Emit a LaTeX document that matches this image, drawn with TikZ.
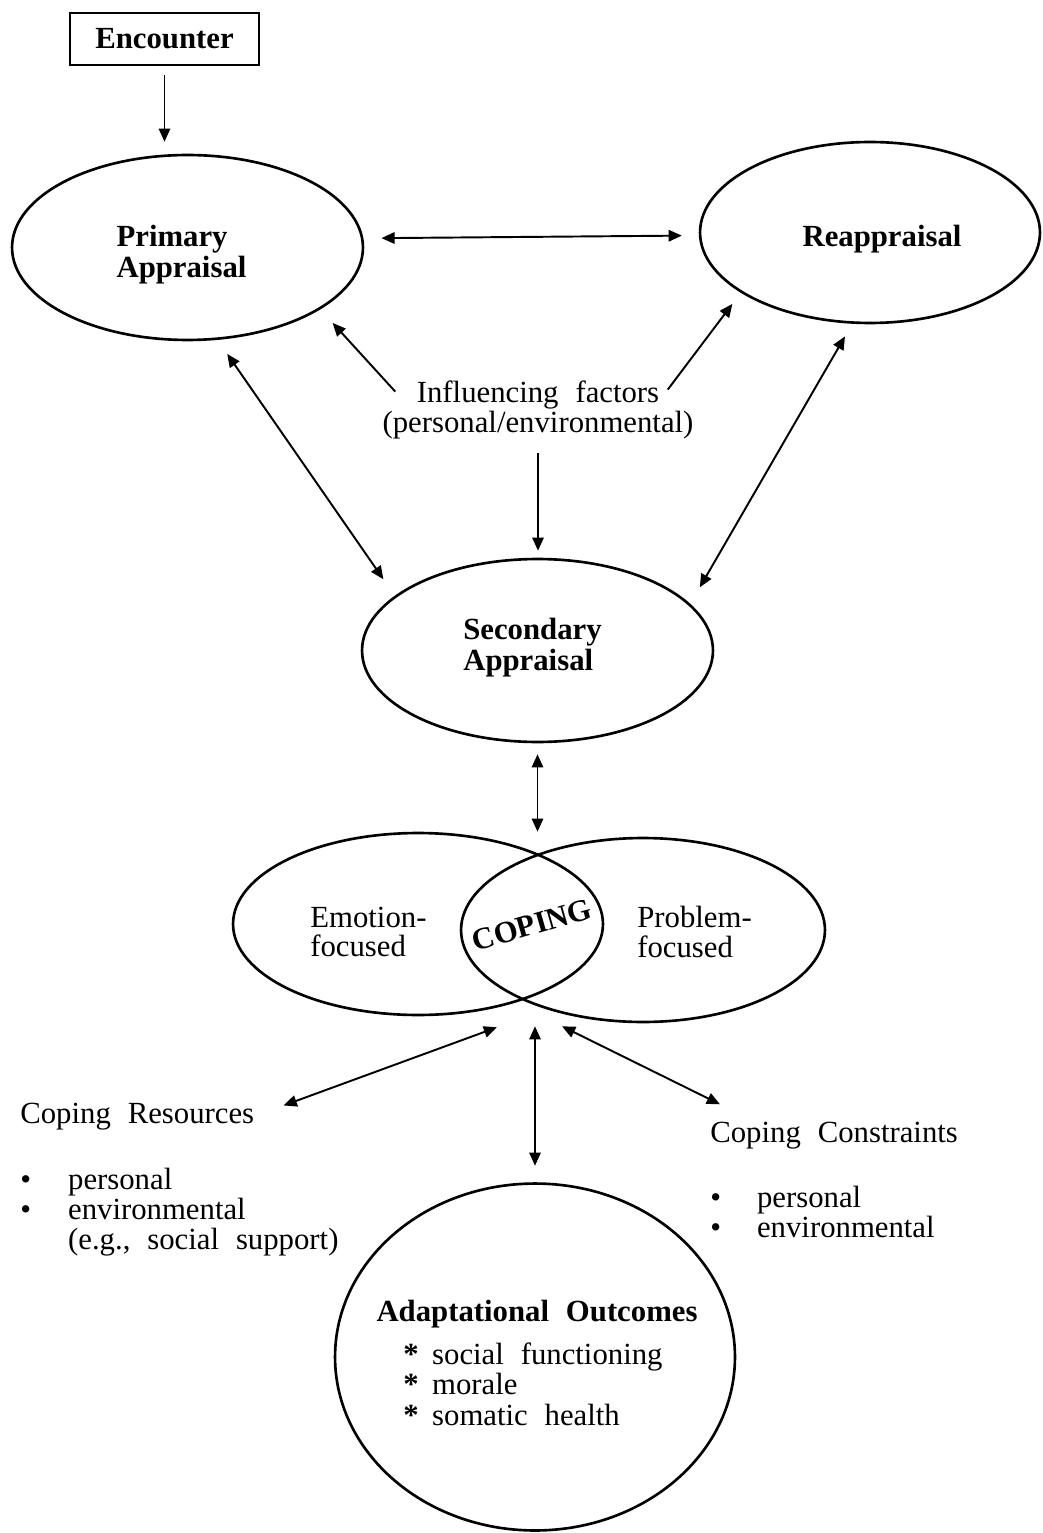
\documentclass[tikz,border=0pt]{standalone}
\usepackage{fontspec}
\setmainfont{Liberation Serif}
\usetikzlibrary{arrows.meta,shapes.geometric}
\newcommand\mywordsp{\spaceskip=0.55em\relax}
\newcommand\myfnt{\fontsize{17.5}{17}\selectfont\mywordsp}
\newcommand\mylfnt{\fontsize{17.5}{17.6}\selectfont\mywordsp}
\newcommand\mybfnt{\fontsize{17.5}{17.6}\selectfont\bfseries\mywordsp}
\begin{document}
\begin{tikzpicture}[x=0.02cm,y=-0.02cm,
  txt/.style={font=\myfnt, inner sep=0pt},
  btxt/.style={font=\mybfnt, inner sep=0pt},
  oval/.style={draw, ellipse, line width=1.5pt, inner sep=0pt},
  ovtext/.style={btxt, align=left},
  arr/.style={-{Triangle[length=7.5pt,width=6.5pt]}, line width=1.1pt},
  dbl/.style={{Triangle[length=7.5pt,width=6.5pt]}-{Triangle[length=7.5pt,width=6.5pt]}, line width=1.1pt}]
\fill[white] (0,0) rectangle (1042,1533);
\useasboundingbox (0,0) rectangle (1042,1533);

% nodes
\node[draw, line width=1.3pt, btxt, minimum width=3.78cm, minimum height=1.04cm] (enc) at (164.5,39) {Encounter};
\node[oval, minimum width=7.02cm, minimum height=3.7cm,
  label={[ovtext, xshift=-0.12cm, yshift=-0.14cm]center:Primary\\Appraisal}] (prim) at (187.5,247.5) {};
\node[oval, minimum width=6.8cm, minimum height=3.62cm,
  label={[ovtext, xshift=0.24cm, yshift=-0.14cm]center:Reappraisal}] (reap) at (870,232.5) {};
\node[txt, align=center] (infl) at (538,410) {Influencing factors\\(personal/environmental)};
\node[oval, minimum width=7.02cm, minimum height=3.66cm,
  label={[ovtext, xshift=-0.1cm, yshift=0.06cm]center:Secondary\\Appraisal}] (sec) at (537.5,650.5) {};
\node[oval, minimum width=7.4cm, minimum height=3.64cm] (copL) at (418,924) {};
\node[oval, minimum width=7.28cm, minimum height=3.68cm] (copR) at (643,930) {};
\node[txt, align=left, anchor=west] (emo) at (310,932) {Emotion-\\focused};
\node[txt, align=left, anchor=west] (prob) at (637,932) {Problem-\\focused};
\node[btxt, rotate=16] (cop) at (532,925) {COPING};
\node[oval, minimum width=8.0cm, minimum height=6.94cm] (adapt) at (535,1357) {};
\node[btxt, anchor=base] (adt) at (537,1321) {Adaptational Outcomes};
\node[txt, font=\mylfnt, align=left, anchor=north west] (adl) at (403,1342)
  {\makebox[16.4pt][l]{\textbf{*}}social functioning\\\makebox[16.4pt][l]{\textbf{*}}morale\\\makebox[16.4pt][l]{\textbf{*}}somatic health};
\node[txt, anchor=base west] (res) at (20,1123) {Coping Resources};
\node[txt, align=left, anchor=north west] (resl) at (20,1168)
  {\makebox[27.2pt][l]{\textbullet}personal\\\makebox[27.2pt][l]{\textbullet}environmental\\\hspace*{27.2pt}(e.g., social support)};
\node[txt, anchor=base west] (cons) at (710,1142) {Coping Constraints};
\node[txt, align=left, anchor=north west] (consl) at (710,1186)
  {\makebox[26.6pt][l]{\textbullet}personal\\\makebox[26.6pt][l]{\textbullet}environmental};

% connectors
\draw[arr, shorten <=0.18cm, shorten >=0.24cm] (enc.south) -- (enc.south |- prim.north);
\draw[dbl, shorten <=0.36cm, shorten >=0.34cm] (prim.3.45) -- (reap.181.5);
\draw[arr, shorten >=0.366cm] ([xshift=0.26cm,yshift=-0.22cm]infl.north west) -- (prim.-25.6);
\draw[arr, shorten >=0.28cm] ([xshift=-0.52cm,yshift=-0.18cm]infl.north east) -- (reap.-155.2);
\draw[arr, shorten <=0.28cm, shorten >=0.14cm] (infl.south) -- (infl.south |- sec.north);
\draw[dbl, shorten <=0.34cm, shorten >=0.4cm] (prim.-72) -- (sec.159);
\draw[dbl, shorten <=0.29cm, shorten >=0.38cm] (reap.-101.1) -- (sec.17.3);
\draw[dbl, shorten <=0.22cm] (sec.south) -- (sec.south |- copL.north);
\draw[dbl, shorten <=0.62cm] (res.east) -- ([xshift=1.58cm,yshift=-0.22cm]copL.south);
\draw[dbl, shorten <=0.06cm, shorten >=0.33cm] (adapt.north |- copR.south) -- (adapt.north);
\draw[dbl] ([xshift=-1.62cm,yshift=-0.06cm]copR.south) -- ([xshift=0.2cm,yshift=0.34cm]cons.north west);
\end{tikzpicture}
\end{document}
